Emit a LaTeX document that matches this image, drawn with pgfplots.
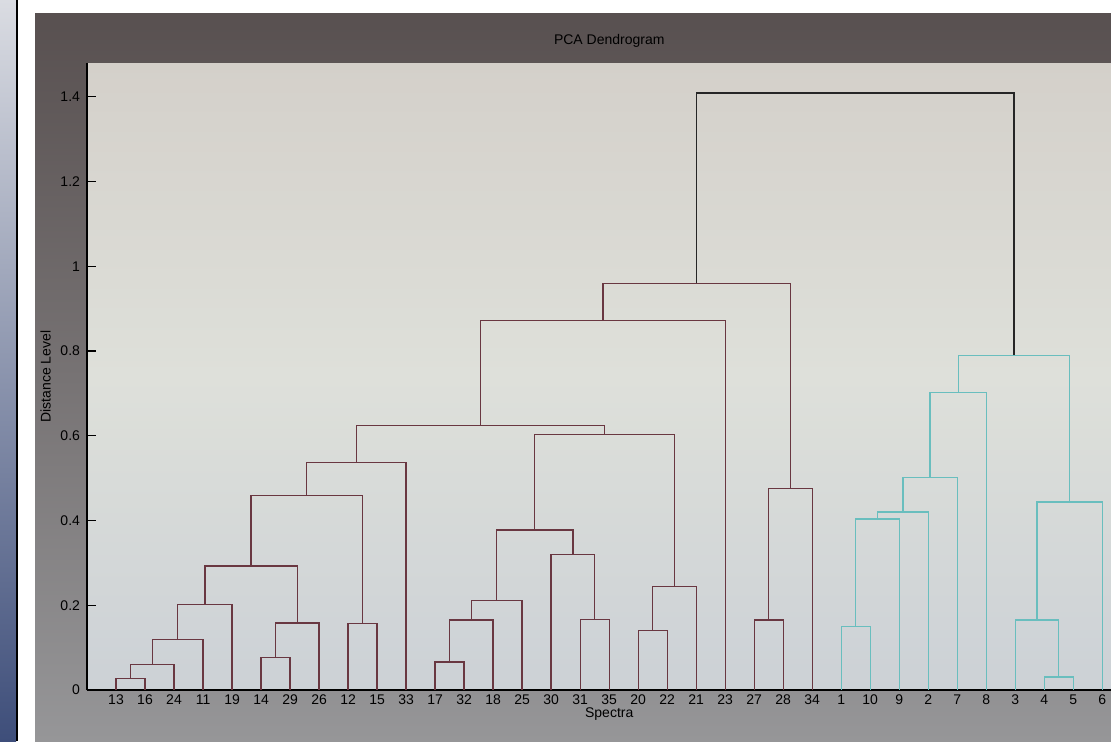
\documentclass[border=0pt]{standalone}
\usepackage{pgfplots}
\pgfplotsset{compat=1.18}
\usepackage{fontspec}
\setmainfont{Liberation Sans}
\definecolor{maroon}{RGB}{105,55,65}
\definecolor{teal}{RGB}{105,190,190}
\begin{document}
\begin{tikzpicture}
\useasboundingbox (0,0) rectangle (555.5pt,370.5pt);
\fill[white] (0,0) rectangle (555.5pt,370.5pt);
\shade[top color={rgb,255:red,218;green,220;blue,226}, bottom color={rgb,255:red,62;green,78;blue,122}] (0,0) rectangle (8pt,370.5pt);
\fill[black] (8pt,0) rectangle (9.2pt,370.5pt);
\shade[top color={rgb,255:red,88;green,80;blue,80}, bottom color={rgb,255:red,150;green,150;blue,152}] (17.5pt,0) rectangle (555.5pt,363.5pt);
\shade[top color={rgb,255:red,212;green,208;blue,202}, bottom color={rgb,255:red,204;green,209;blue,214}, middle color={rgb,255:red,222;green,224;blue,218}] (43.5pt,25.5pt) rectangle (555.5pt,339pt);
\begin{axis}[
  at={(43.5pt,25.5pt)}, anchor=south west,
  scale only axis, width=512pt, height=313.5pt,
  xmin=0, xmax=35.3, ymin=0, ymax=1.48,
  axis x line*=bottom, axis y line*=left,
  axis line style={-, black, line width=0.6pt},
  tick align=inside, major tick length=4.5pt,
  tick style={black, line width=0.6pt},
  xtick={1,...,35},
  xticklabels={13,16,24,11,19,14,29,26,12,15,33,17,32,18,25,30,31,35,20,22,21,23,27,28,34,1,10,9,2,7,8,3,4,5,6},
  ytick={0,0.2,0.4,0.6,0.8,1,1.2,1.4},
  yticklabels={0,0.2,0.4,0.6,0.8,1,1.2,1.4},
  /pgf/number format/assume math mode=true,
  ticklabel style={font=\fontsize{7}{8}\selectfont, text=black},
  xticklabel style={yshift=1pt},
  xlabel={Spectra}, ylabel={Distance Level},
  xlabel style={at={(ticklabel cs:0.51)}, anchor=near ticklabel, font=\fontsize{7}{8}\selectfont, yshift=5.5pt},
  ylabel style={font=\fontsize{7}{8}\selectfont, yshift=-2pt},
  title={PCA Dendrogram},
  title style={at={(axis description cs:0.51,1)}, font=\fontsize{7}{8}\selectfont, yshift=-1.5pt},
  every axis plot/.append style={no marks, line width=0.65pt},
]
% maroon cluster
\addplot[maroon] coordinates {(1,0) (1,0.027) (2,0.027) (2,0)};
\addplot[maroon] coordinates {(1.5,0.027) (1.5,0.060) (3,0.060) (3,0)};
\addplot[maroon] coordinates {(2.25,0.060) (2.25,0.119) (4,0.119) (4,0)};
\addplot[maroon] coordinates {(3.125,0.119) (3.125,0.202) (5,0.202) (5,0)};
\addplot[maroon] coordinates {(6,0) (6,0.077) (7,0.077) (7,0)};
\addplot[maroon] coordinates {(6.5,0.077) (6.5,0.158) (8,0.158) (8,0)};
\addplot[maroon] coordinates {(4.0625,0.202) (4.0625,0.293) (7.25,0.293) (7.25,0.158)};
\addplot[maroon] coordinates {(9,0) (9,0.157) (10,0.157) (10,0)};
\addplot[maroon] coordinates {(5.65625,0.293) (5.65625,0.459) (9.5,0.459) (9.5,0.157)};
\addplot[maroon] coordinates {(7.578125,0.459) (7.578125,0.537) (11,0.537) (11,0)};
\addplot[maroon] coordinates {(12,0) (12,0.066) (13,0.066) (13,0)};
\addplot[maroon] coordinates {(12.5,0.066) (12.5,0.165) (14,0.165) (14,0)};
\addplot[maroon] coordinates {(13.25,0.165) (13.25,0.211) (15,0.211) (15,0)};
\addplot[maroon] coordinates {(17,0) (17,0.167) (18,0.167) (18,0)};
\addplot[maroon] coordinates {(16,0) (16,0.320) (17.5,0.320) (17.5,0.167)};
\addplot[maroon] coordinates {(14.125,0.211) (14.125,0.378) (16.75,0.378) (16.75,0.320)};
\addplot[maroon] coordinates {(19,0) (19,0.140) (20,0.140) (20,0)};
\addplot[maroon] coordinates {(19.5,0.140) (19.5,0.244) (21,0.244) (21,0)};
\addplot[maroon] coordinates {(15.4375,0.378) (15.4375,0.603) (20.25,0.603) (20.25,0.244)};
\addplot[maroon] coordinates {(9.2890625,0.537) (9.2890625,0.624) (17.84375,0.624) (17.84375,0.603)};
\addplot[maroon] coordinates {(13.56640625,0.624) (13.56640625,0.872) (22,0.872) (22,0)};
\addplot[maroon] coordinates {(23,0) (23,0.165) (24,0.165) (24,0)};
\addplot[maroon] coordinates {(23.5,0.165) (23.5,0.475) (25,0.475) (25,0)};
\addplot[maroon] coordinates {(17.783203125,0.872) (17.783203125,0.960) (24.25,0.960) (24.25,0.475)};
% teal cluster
\addplot[teal] coordinates {(26,0) (26,0.150) (27,0.150) (27,0)};
\addplot[teal] coordinates {(26.5,0.150) (26.5,0.404) (28,0.404) (28,0)};
\addplot[teal] coordinates {(27.25,0.404) (27.25,0.420) (29,0.420) (29,0)};
\addplot[teal] coordinates {(28.125,0.420) (28.125,0.502) (30,0.502) (30,0)};
\addplot[teal] coordinates {(29.0625,0.502) (29.0625,0.702) (31,0.702) (31,0)};
\addplot[teal] coordinates {(33,0) (33,0.031) (34,0.031) (34,0)};
\addplot[teal] coordinates {(32,0) (32,0.165) (33.5,0.165) (33.5,0.031)};
\addplot[teal] coordinates {(32.75,0.165) (32.75,0.444) (35,0.444) (35,0)};
\addplot[teal] coordinates {(30.03125,0.702) (30.03125,0.790) (33.875,0.790) (33.875,0.444)};
% top link
\addplot[black!85] coordinates {(21.0166015625,0.960) (21.0166015625,1.409) (31.953125,1.409) (31.953125,0.790)};
\end{axis}
\end{tikzpicture}
\end{document}
